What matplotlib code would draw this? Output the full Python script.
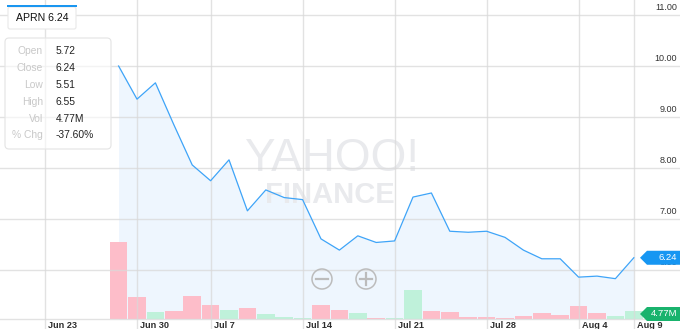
import matplotlib
matplotlib.use("Agg")
import matplotlib.pyplot as plt
from matplotlib.patches import Polygon, FancyBboxPatch, Circle, Rectangle
from matplotlib.transforms import IdentityTransform
import numpy as np

plt.rcParams['font.family'] = ['Liberation Sans', 'DejaVu Sans']

# ---------------- data ----------------
dates = ["Jun 29", "Jun 30", "Jul 3", "Jul 5", "Jul 6", "Jul 7", "Jul 10", "Jul 11",
         "Jul 12", "Jul 13", "Jul 14", "Jul 17", "Jul 18", "Jul 19", "Jul 20", "Jul 21",
         "Jul 24", "Jul 25", "Jul 26", "Jul 27", "Jul 28", "Jul 31", "Aug 1", "Aug 2",
         "Aug 3", "Aug 4", "Aug 7", "Aug 8", "Aug 9"]
close = [10.00, 9.35, 9.67, 8.85, 8.06, 7.75, 8.16, 7.16, 7.57, 7.42, 7.38, 6.61, 6.39,
         6.67, 6.54, 6.57, 7.43, 7.51, 6.76, 6.74, 6.76, 6.64, 6.39, 6.22, 6.22, 5.86,
         5.88, 5.83, 6.24]
volume_m = [45.9, 13.3, 4.0, 4.9, 13.5, 8.3, 5.4, 6.6, 3.0, 1.4, 0.8, 8.5, 5.2, 3.8,
            0.8, 0.6, 17.5, 4.6, 4.3, 1.4, 1.2, 0.6, 1.5, 3.7, 2.4, 7.9, 3.3, 1.9, 4.77]
up_day = [False, False, True, False, False, False, True, False, True, True, True, False,
          False, True, False, True, True, False, False, False, False, False, False, False,
          False, False, False, True, True]
tick_labels = ["Jun 23", "Jun 30", "Jul 7", "Jul 14", "Jul 21", "Jul 28", "Aug 4", "Aug 9"]
tick_pos = [-4, 1, 5, 10, 15, 20, 25, 28]   # trading-day index
price_ticks = [6.00, 7.00, 8.00, 9.00, 10.00, 11.00]
info_labels = ["Open", "Close", "Low", "High", "Vol", "% Chg"]
info_values = ["5.72", "6.24", "5.51", "6.55", "4.77M", "-37.60%"]
ticker = "APRN"
last_price = 6.24
last_vol = "4.77M"

# ---------------- figure ----------------
W, H = 680, 329
fig = plt.figure(figsize=(W / 100, H / 100), dpi=100)
ax = fig.add_axes([0, 0, 1, 1])
ax2 = ax.twinx()
ax.set_zorder(ax2.get_zorder() + 1)
ax.patch.set_visible(False)

x = np.arange(len(close))
ppd = 18.4        # px per trading day
x0 = 118.6        # px of first day
ax.set_xlim(-x0 / ppd, (W - x0) / ppd)
ppu = 51.0        # px per price unit
ax.set_ylim(11 - (H - 15) / ppu, 11 + 15 / ppu)
vpp = 4.77 / 8.0  # volume (M) per px
ax.axis('off')
ax2.axis('off')

grid_c = '#d9d9d9'
base = ax.get_ylim()[0] + 10 / ppu

# area fill (behind bars) using price scale
ax2.fill_between(x, close, base, color='#eef6fe', lw=0, zorder=0.5, transform=ax.transData)
ax2.set_ylim(-(H - 319) * vpp, 319 * vpp)

# volume bars
cols = ['#bff1da' if u else '#fdbdc9' for u in up_day]
ax2.bar(x, volume_m, width=0.96, color=cols, edgecolor='none', zorder=2)
ax2.set_ylim(-(H - 319) * vpp, 319 * vpp)

# gridlines
for p in price_ticks:
    ax.axhline(p, color=grid_c, lw=1.0, zorder=1, alpha=0.75)
ax.axhline(base, color=grid_c, lw=1.0, zorder=1, alpha=0.75)
for t in tick_pos:
    ax.axvline(t, color=grid_c, lw=1.0, zorder=1, alpha=0.75)

# line
ax.plot(x, close, color='#3ea4f8', lw=0.9, zorder=3)

# price labels
for p in price_ticks:
    ax.text(W - 3, ax.transData.transform((0, p))[1] + 3, f"{p:.2f}", transform=IdentityTransform(),
            ha='right', va='bottom', fontsize=6.5, color='#333333', zorder=4)
# date labels
for t, lab in zip(tick_pos, tick_labels):
    xp = ax.transData.transform((t, 0))[0]
    ax.text(xp + 3, H - 326, lab, transform=IdentityTransform(), ha='left', va='center',
            fontsize=6.6, fontweight='bold', color='#2d2d2d', zorder=4)

# watermark
ax.text(332, H - 159, "YAHOO!", transform=IdentityTransform(), ha='center', va='center',
        fontsize=33, color='#e9eaed', zorder=0.8, fontweight='light')
ax.text(330, H - 195, "FINANCE", transform=IdentityTransform(), ha='center', va='center',
        fontsize=21, color='#e9eaed', zorder=0.8, fontweight='bold')

# zoom buttons
for cx, sym in [(322, '-'), (366, '+')]:
    ax.add_patch(Circle((cx, H - 279), 10, transform=IdentityTransform(), fc='none',
                        ec='#bcbcbc', lw=1.1, zorder=5))
    ax.plot([cx - 6, cx + 6], [H - 279, H - 279], transform=IdentityTransform(),
            color='#bcbcbc', lw=1.6, zorder=5)
    if sym == '+':
        ax.plot([cx, cx], [H - 285, H - 273], transform=IdentityTransform(),
                color='#bcbcbc', lw=1.6, zorder=5)

# flags
def flag(yc, color, text):
    pts = [(640, yc), (647, yc + 7), (680, yc + 7), (680, yc - 7), (647, yc - 7)]
    ax.add_patch(Polygon(pts, closed=True, transform=IdentityTransform(), fc=color,
                         ec='none', zorder=6))
    ax.text(677, yc, text, transform=IdentityTransform(), ha='right', va='center',
            fontsize=6.8, color='white', zorder=7)

yp = ax.transData.transform((0, last_price))[1]
flag(yp, '#1696f2', f"{last_price:.2f}")
yv = ax2.transData.transform((0, volume_m[-1]))[1] - 3
flag(yv, '#19b36d', last_vol)

# ticker box
ax.add_patch(FancyBboxPatch((8, H - 29), 68, 22, boxstyle='round,pad=0,rounding_size=2',
                            transform=IdentityTransform(), fc='white', ec='#e8e8e8', lw=0.8, zorder=8))
ax.add_patch(Rectangle((7, H - 7), 70, 2.5, transform=IdentityTransform(), fc='#1a96f0',
                       ec='none', zorder=9))
ax.text(42, H - 18, f"{ticker} {last_price:.2f}", transform=IdentityTransform(), ha='center',
        va='center', fontsize=7.6, color='#111111', zorder=9)

# info box
ax.add_patch(FancyBboxPatch((5, H - 149), 106, 111, boxstyle='round,pad=0,rounding_size=4',
                            transform=IdentityTransform(), fc=(1, 1, 1, 0.6), ec='#e4e4e4',
                            lw=0.8, zorder=8))
for i, (lab, val) in enumerate(zip(info_labels, info_values)):
    yy = H - (51.5 + i * 16.8)
    ax.text(43, yy, lab, transform=IdentityTransform(), ha='right', va='center',
            fontsize=7.4, color='#c8c8c8', zorder=9)
    ax.text(56, yy, val, transform=IdentityTransform(), ha='left', va='center',
            fontsize=7.4, color='#222222', zorder=9)

fig.savefig("out.png", dpi=100)
